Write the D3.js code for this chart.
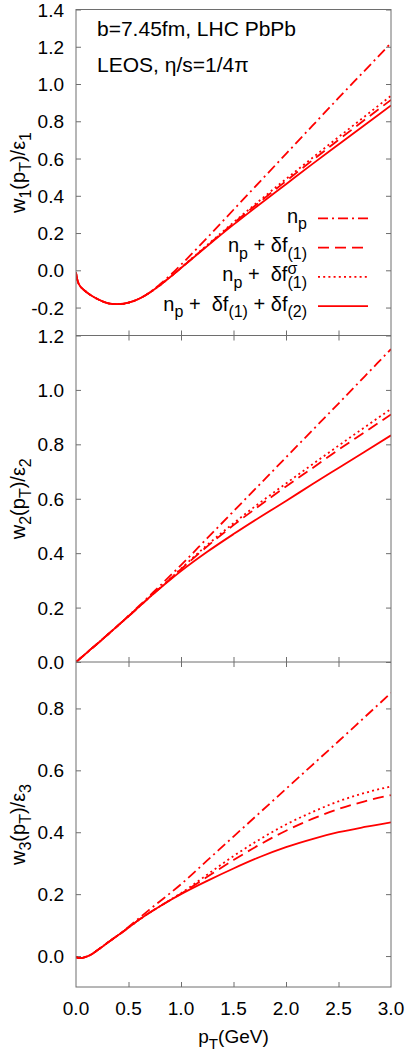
<!DOCTYPE html>
<html>
<head>
<meta charset="utf-8">
<script src="https://cdn.jsdelivr.net/npm/d3@7"></script>
<style>
  html, body { margin: 0; padding: 0; background: #fff; }
  svg text { font-family: "Liberation Sans", Arial, Helvetica, sans-serif; fill: #000; white-space: pre; }
</style>
</head>
<body>
<svg id="chart" width="407" height="1052"></svg>
<script>
// ---------------- DATA ----------------
const pT = [0, 0.01, 0.02, 0.04, 0.07, 0.1, 0.15, 0.2, 0.25, 0.3, 0.35, 0.4, 0.5, 0.6, 0.7, 0.8, 0.9, 1.0, 1.25, 1.5, 1.75, 2.0, 2.25, 2.5, 2.75, 3.0];

// panel 1: w1(pT)/eps1
const w1_np    = [-0.012, -0.045, -0.065, -0.085, -0.103, -0.117, -0.137, -0.153, -0.166, -0.176, -0.181, -0.182, -0.174, -0.153, -0.12, -0.075, -0.025, 0.03, 0.175, 0.325, 0.475, 0.625, 0.775, 0.925, 1.072, 1.22];
const w1_df1   = [-0.012, -0.045, -0.065, -0.085, -0.103, -0.117, -0.137, -0.153, -0.166, -0.176, -0.181, -0.182, -0.174, -0.153, -0.12, -0.08, -0.035, 0.012, 0.133, 0.252, 0.367, 0.479, 0.59, 0.70, 0.808, 0.915];
const w1_dfs   = [-0.012, -0.045, -0.065, -0.085, -0.103, -0.117, -0.137, -0.153, -0.166, -0.176, -0.181, -0.182, -0.174, -0.153, -0.12, -0.08, -0.034, 0.014, 0.136, 0.257, 0.375, 0.49, 0.603, 0.715, 0.826, 0.937];
const w1_full  = [-0.012, -0.045, -0.065, -0.085, -0.103, -0.117, -0.137, -0.153, -0.166, -0.176, -0.181, -0.182, -0.174, -0.153, -0.12, -0.08, -0.035, 0.012, 0.13, 0.245, 0.355, 0.462, 0.57, 0.675, 0.78, 0.885];

// panel 2: w2(pT)/eps2
const w2_np    = [0, 0.003, 0.006, 0.013, 0.023, 0.033, 0.05, 0.066, 0.083, 0.1, 0.117, 0.134, 0.17, 0.206, 0.243, 0.28, 0.318, 0.356, 0.455, 0.554, 0.653, 0.752, 0.851, 0.95, 1.05, 1.15];
const w2_df1   = [0, 0.003, 0.006, 0.013, 0.023, 0.033, 0.05, 0.066, 0.083, 0.1, 0.117, 0.134, 0.168, 0.203, 0.238, 0.272, 0.306, 0.341, 0.425, 0.503, 0.575, 0.645, 0.712, 0.78, 0.845, 0.91];
const w2_dfs   = [0, 0.003, 0.006, 0.013, 0.023, 0.033, 0.05, 0.066, 0.083, 0.1, 0.117, 0.134, 0.168, 0.203, 0.238, 0.272, 0.307, 0.343, 0.43, 0.51, 0.585, 0.656, 0.726, 0.795, 0.863, 0.93];
const w2_full  = [0, 0.003, 0.006, 0.013, 0.023, 0.033, 0.05, 0.066, 0.083, 0.1, 0.117, 0.134, 0.168, 0.203, 0.238, 0.271, 0.303, 0.334, 0.405, 0.47, 0.532, 0.592, 0.653, 0.713, 0.773, 0.833];

// panel 3: w3(pT)/eps3
const w3_np    = [-0.002, -0.005, -0.006, -0.007, -0.005, -0.002, 0.006, 0.018, 0.03, 0.043, 0.055, 0.067, 0.094, 0.122, 0.15, 0.177, 0.204, 0.232, 0.309, 0.386, 0.463, 0.54, 0.617, 0.694, 0.772, 0.85];
const w3_df1   = [-0.002, -0.005, -0.006, -0.007, -0.005, -0.002, 0.006, 0.018, 0.03, 0.043, 0.055, 0.067, 0.092, 0.117, 0.14, 0.161, 0.181, 0.201, 0.256, 0.31, 0.36, 0.405, 0.443, 0.475, 0.5, 0.52];
const w3_dfs   = [-0.002, -0.005, -0.006, -0.007, -0.005, -0.002, 0.006, 0.018, 0.03, 0.043, 0.055, 0.067, 0.092, 0.117, 0.14, 0.161, 0.182, 0.203, 0.263, 0.323, 0.377, 0.425, 0.465, 0.5, 0.527, 0.548];
const w3_full  = [-0.002, -0.005, -0.006, -0.007, -0.005, -0.002, 0.006, 0.018, 0.03, 0.043, 0.055, 0.067, 0.092, 0.117, 0.14, 0.161, 0.181, 0.2, 0.243, 0.283, 0.32, 0.352, 0.378, 0.4, 0.417, 0.432];

const xTicks  = [0, 0.5, 1.0, 1.5, 2.0, 2.5, 3.0];
const y1Ticks = [-0.2, 0.0, 0.2, 0.4, 0.6, 0.8, 1.0, 1.2, 1.4];
const y2Ticks = [0.0, 0.2, 0.4, 0.6, 0.8, 1.0, 1.2];
const y3Ticks = [0.0, 0.2, 0.4, 0.6, 0.8];

const seriesNames = ["np", "df1", "dfs", "full"];

// ---------------- LAYOUT ----------------
const svg = d3.select("#chart");
const L = 76, R = 391;
const RED = "#ff0000", FRAME = "#6e6e6e";
const styles = {
  np:   { dash: "10,4,2,4" },
  df1:  { dash: "11,6" },
  dfs:  { dash: "2,3.2" },
  full: { dash: null }
};

const x = d3.scaleLinear().domain([0, 3]).range([L, R]);

const panels = [
  { id: 1, top: 9.5, bottom: 335.5, dom: [-0.35, 1.4], ticks: y1Ticks,
    data: { np: w1_np, df1: w1_df1, dfs: w1_dfs, full: w1_full }, topTicks: false },
  { id: 2, top: 335.5, bottom: 662, dom: [0, 1.2], ticks: y2Ticks,
    data: { np: w2_np, df1: w2_df1, dfs: w2_dfs, full: w2_full }, topTicks: true },
  { id: 3, top: 662, bottom: 987, dom: [-0.1, 0.95], ticks: y3Ticks,
    data: { np: w3_np, df1: w3_df1, dfs: w3_dfs, full: w3_full }, topTicks: true }
];

const FS = 19;

function rich(sel, parts, fs) {
  // parts: [text, mode] mode: 0 normal, 1 sub, 2 sup
  let state = 0;
  parts.forEach(p => {
    const [t, mode] = p;
    const ts = sel.append("tspan").text(t);
    const off = m => m === 1 ? 0.32 * fs : (m === 2 ? -0.42 * fs : 0);
    const dy = off(mode) - off(state);
    if (dy !== 0) ts.attr("dy", dy);
    if (mode !== 0) ts.attr("font-size", (0.8 * fs) + "px");
    state = mode;
  });
  return sel;
}

panels.forEach(P => {
  const y = d3.scaleLinear().domain(P.dom).range([P.bottom, P.top]);
  const g = svg.append("g");

  const cid = "clip" + P.id;
  svg.append("clipPath").attr("id", cid).append("rect")
    .attr("x", L).attr("y", P.top).attr("width", R - L).attr("height", P.bottom - P.top);

  const yl = g.append("g").attr("transform", `translate(${L},0)`)
    .call(d3.axisRight(y).tickValues(P.ticks).tickSize(5).tickFormat(""));
  yl.select(".domain").remove();
  yl.selectAll("line").attr("stroke", FRAME);
  const yr = g.append("g").attr("transform", `translate(${R},0)`)
    .call(d3.axisLeft(y).tickValues(P.ticks).tickSize(5).tickFormat(""));
  yr.select(".domain").remove();
  yr.selectAll("line").attr("stroke", FRAME);

  g.selectAll(".ylab").data(P.ticks).enter().append("text")
    .attr("x", 64).attr("y", d => y(d) + 7)
    .attr("text-anchor", "end").attr("font-size", FS + "px")
    .text(d => d3.format(".1f")(d).replace("−", "-"));

  const xb = g.append("g").attr("transform", `translate(0,${P.bottom})`)
    .call(d3.axisTop(x).tickValues(xTicks.slice(1, -1)).tickSize(5).tickFormat(""));
  xb.select(".domain").remove();
  xb.selectAll("line").attr("stroke", FRAME);
  if (P.topTicks) {
    const xt = g.append("g").attr("transform", `translate(0,${P.top})`)
      .call(d3.axisBottom(x).tickValues(xTicks.slice(1, -1)).tickSize(5).tickFormat(""));
    xt.select(".domain").remove();
    xt.selectAll("line").attr("stroke", FRAME);
  }

  const line = d3.line().x((d, i) => x(pT[i])).y(d => y(d)).curve(d3.curveMonotoneX);
  const cg = svg.append("g").attr("clip-path", `url(#${cid})`);
  seriesNames.forEach(k => {
    cg.append("path").datum(P.data[k])
      .attr("d", line)
      .attr("fill", "none")
      .attr("stroke", RED)
      .attr("stroke-width", 1.8)
      .attr("stroke-linejoin", "round")
      .attr("stroke-dasharray", styles[k].dash);
  });

  const cy = (P.top + P.bottom) / 2;
  const yt = svg.append("text")
    .attr("transform", `translate(25,${cy}) rotate(-90)`)
    .attr("text-anchor", "middle").attr("font-size", "20px");
  rich(yt, [["w", 0], [String(P.id), 1], ["(p", 0], ["T", 1], [")/ε", 0], [String(P.id), 1]], 20);
});

// frame borders
const frame = svg.append("g").attr("fill", "none").attr("stroke", FRAME).attr("stroke-width", 1);
frame.append("rect").attr("x", L).attr("y", panels[0].top).attr("width", R - L)
  .attr("height", panels[2].bottom - panels[0].top);
panels.slice(0, 2).forEach(P => {
  frame.append("line").attr("x1", L).attr("x2", R).attr("y1", P.bottom).attr("y2", P.bottom);
});

// x tick labels
svg.selectAll(".xlab").data(xTicks).enter().append("text")
  .attr("x", d => x(d)).attr("y", 1015)
  .attr("text-anchor", "middle").attr("font-size", FS + "px")
  .text(d => d3.format(".1f")(d));

// x axis title
const xtit = svg.append("text").attr("x", x(1.5)).attr("y", 1043)
  .attr("text-anchor", "middle").attr("font-size", "19px");
rich(xtit, [["p", 0], ["T", 1], ["(GeV)", 0]], 19);

// annotations
svg.append("text").attr("x", 97).attr("y", 36).attr("font-size", "21px").text("b=7.45fm, LHC PbPb");
svg.append("text").attr("x", 97).attr("y", 72).attr("font-size", "21px").text("LEOS, η/s=1/4π");

// legend
const legendRows = [
  { key: "np",   parts: [["n", 0], ["p", 1]] },
  { key: "df1",  parts: [["n", 0], ["p", 1], [" + δf", 0], ["(1)", 1]] },
  { key: "dfs",  parts: [["n", 0], ["p", 1], [" +  δf", 0], ["(1)", 1]], sup: "σ" },
  { key: "full", parts: [["n", 0], ["p", 1], [" +  δf", 0], ["(1)", 1], [" + δf", 0], ["(2)", 1]] }
];
const legY0 = 218.3, legDY = 29.3;
legendRows.forEach((row, i) => {
  const ly = legY0 + i * legDY;
  const t = svg.append("text").attr("x", 307).attr("y", ly + 4.5)
    .attr("text-anchor", "end").attr("font-size", "20px");
  rich(t, row.parts, 20);
  if (row.sup) {
    // superscript stacked above the last subscript, as in the original
    const last = t.selectAll("tspan").nodes().slice(-1)[0];
    const w = last.getComputedTextLength();
    svg.append("text").attr("x", 307 - w).attr("y", ly + 4.5 - 7.5)
      .attr("font-size", "16px").text(row.sup);
  }
  svg.append("line").attr("x1", 318).attr("x2", 368).attr("y1", ly).attr("y2", ly)
    .attr("stroke", RED).attr("stroke-width", 1.8)
    .attr("stroke-dasharray", styles[row.key].dash);
});
</script>
</body>
</html>
